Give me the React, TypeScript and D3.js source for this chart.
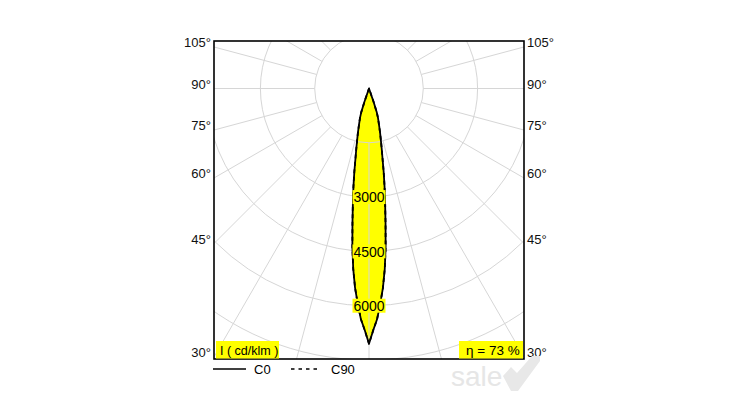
import React from "react";
import * as d3 from "d3";

// ---- data ----
const gammaDeg = [0, 1, 2, 3, 4, 5, 6, 7, 8, 9, 10, 11, 12, 13, 14, 15, 16, 17, 18, 19, 20];
const intensityC0 = [7050, 6680, 6380, 5950, 5520, 5000, 4400, 3750, 3200, 2750, 2330, 1950, 1680, 1450, 1270, 1100, 960, 850, 700, 380, 0];
const intensityC90 = [7050, 6680, 6380, 5950, 5520, 5000, 4400, 3750, 3200, 2750, 2330, 1950, 1680, 1450, 1270, 1100, 960, 850, 700, 380, 0];
const ringValues = [1500, 3000, 4500, 6000, 7500];
const ringLabels = [3000, 4500, 6000];
const angleTicks = [30, 45, 60, 75, 90, 105];
const spokeAngles = [0, 15, 30, 45, 60, 75, 90, 105, 120, 135, 150, 165, 180, 195, 210, 225, 240, 255, 270, 285, 300, 315, 330, 345];
const unitLabel = "I ( cd/klm )";
const efficiencyLabel = "η = 73 %";
const legendItems = ["C0", "C90"];

// ---- layout ----
const W = 738, H = 403;
const frame = { x: 214, y: 41, w: 310, h: 318 };
const cx = 369, cy = 88.5;
const font = "'Liberation Sans', Arial, sans-serif";

const rScale = d3.scaleLinear().domain([0, 1500]).range([0, 54.3]);
const toRad = (deg: number) => (deg * Math.PI) / 180;

function lobePath(values: number[]) {
  const pts: { g: number; v: number }[] = [];
  for (let i = gammaDeg.length - 1; i >= 0; i--) pts.push({ g: -gammaDeg[i], v: values[i] });
  for (let i = 1; i < gammaDeg.length; i++) pts.push({ g: gammaDeg[i], v: values[i] });
  const line = d3
    .lineRadial<{ g: number; v: number }>()
    .angle((d) => Math.PI - toRad(d.g))
    .radius((d) => rScale(d.v))
    .curve(d3.curveLinear);
  return line(pts) + "Z";
}

export default function App() {
  const innerR = rScale(ringValues[0]);
  const outerR = 600;
  const halfW = frame.w / 2;

  return (
    <svg width={W} height={H} style={{ position: "absolute", left: 0, top: 0, background: "#fff" }}>
      <defs>
        <clipPath id="frameClip">
          <rect x={frame.x} y={frame.y} width={frame.w} height={frame.h} />
        </clipPath>
      </defs>

      {/* lobe fill */}
      <g transform={`translate(${cx},${cy})`}>
        <path d={lobePath(intensityC0)} fill="#ffff00" stroke="none" />
      </g>

      {/* grid */}
      <g clipPath="url(#frameClip)" stroke="#d6d6d6" strokeWidth={1} fill="none">
        {ringValues.map((v) => (
          <circle key={v} cx={cx} cy={cy} r={rScale(v)} />
        ))}
        {spokeAngles.map((a) => {
          const s = Math.sin(toRad(a)), c = Math.cos(toRad(a));
          return (
            <line
              key={a}
              x1={cx + innerR * s}
              y1={cy + innerR * c}
              x2={cx + outerR * s}
              y2={cy + outerR * c}
            />
          );
        })}
      </g>

      {/* lobe outlines */}
      <g transform={`translate(${cx},${cy})`} fill="none" stroke="#000" strokeWidth={1.8} strokeLinejoin="round">
        <path d={lobePath(intensityC0)} />
        <path d={lobePath(intensityC90)} strokeDasharray="4,3.5" />
      </g>

      {/* ring value labels */}
      {ringLabels.map((v) => {
        const y = cy + rScale(v);
        return (
          <g key={v}>
            <rect x={cx - 16.5} y={y - 7} width={33} height={14} fill="#ffff00" />
            <text x={cx} y={y + 5.2} textAnchor="middle" fontFamily={font} fontSize={14} fill="#000">
              {v}
            </text>
          </g>
        );
      })}

      {/* frame */}
      <rect x={frame.x} y={frame.y} width={frame.w} height={frame.h} fill="none" stroke="#000" strokeWidth={1.6} />

      {/* angle labels */}
      {angleTicks.map((a) => {
        const y = Math.min(cy + halfW / Math.tan(toRad(a)), 357.5);
        return (
          <g key={a} fontFamily={font} fontSize={13} fill="#111">
            <text x={frame.x - 3} y={y} textAnchor="end">{a}°</text>
            <text x={frame.x + frame.w + 3} y={y} textAnchor="start">{a}°</text>
          </g>
        );
      })}

      {/* unit / efficiency boxes */}
      <rect x={216} y={341} width={63} height={17.5} fill="#ffff00" />
      <text x={220} y={355} fontFamily={font} fontSize={12.5} fill="#000">{unitLabel}</text>
      <rect x={459} y={341} width={64} height={17.5} fill="#ffff00" />
      <text x={466} y={355} fontFamily={font} fontSize={13.5} fill="#000">{efficiencyLabel}</text>

      {/* legend */}
      <line x1={213} y1={369} x2={246} y2={369} stroke="#000" strokeWidth={1.4} />
      <text x={254} y={373.5} fontFamily={font} fontSize={13} fill="#000">{legendItems[0]}</text>
      <line x1={291} y1={369} x2={319} y2={369} stroke="#000" strokeWidth={1.4} strokeDasharray="3.5,4" />
      <text x={331} y={373.5} fontFamily={font} fontSize={13} fill="#000">{legendItems[1]}</text>

      {/* watermark */}
      <text x={451} y={386} fontFamily={font} fontSize={28} fill="#e6e6e6">sale</text>
      <polygon
        points="503,376 511,367 517,373 532,356 540,356 540,361 518,391 511,391"
        fill="#e8e8e8"
      />
    </svg>
  );
}
